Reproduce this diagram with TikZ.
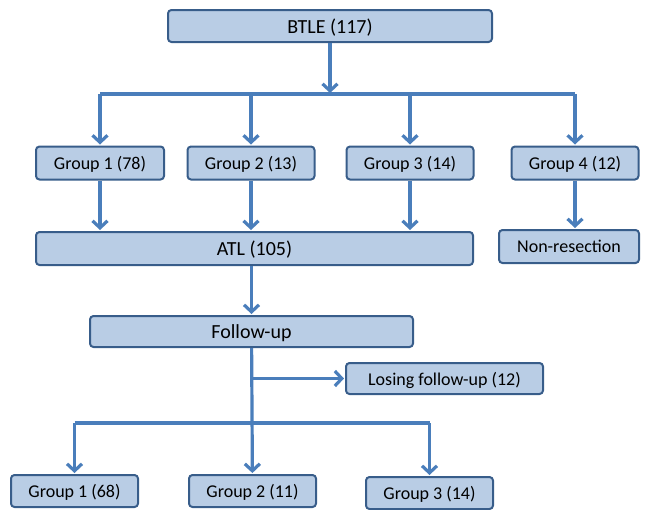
\documentclass[tikz,border=0pt]{standalone}
\usepackage{fontspec}
\setmainfont{Carlito}
\usetikzlibrary{arrows.meta}

\definecolor{boxfill}{RGB}{185,205,229}
\definecolor{boxline}{RGB}{56,93,138}
\definecolor{arrowblue}{RGB}{74,126,187}

\tikzset{
  bigbox/.style={draw=boxline, fill=boxfill, line width=2pt, rounded corners=3.5pt,
    inner sep=0pt, text depth=0pt, font=\fontsize{20}{22}\selectfont},
  smallbox/.style={bigbox, font=\fontsize{18}{20}\selectfont},
  link/.style={draw=arrowblue, line width=3.2pt},
  arrow/.style={link, -{Straight Barb[length=7pt,width=15pt,line width=3.2pt]}, shorten >=1pt},
}

\begin{document}
\begin{tikzpicture}[x=1pt, y=-1pt]
\useasboundingbox (0,0) rectangle (645,509);
%% --- boxes ---
\node[bigbox, minimum width=324pt, minimum height=32pt] (btle) at (330,26) {BTLE (117)};
\node[smallbox, minimum width=128pt, minimum height=33pt] (g1) at (100,163) {Group 1 (78)};
\node[smallbox, minimum width=127pt, minimum height=33pt] (g2) at (251,163) {Group 2 (13)};
\node[smallbox, minimum width=127pt, minimum height=33pt] (g3) at (410,163) {Group 3 (14)};
\node[smallbox, minimum width=127pt, minimum height=33pt] (g4) at (575,163) {Group 4 (12)};
\node[bigbox, minimum width=437pt, minimum height=33pt] (atl) at (254.5,248.5) {ATL (105)};
\node[smallbox, minimum width=140pt, minimum height=33pt] (nonres) at (569,246.5) {Non-resection};
\node[bigbox, minimum width=323pt, minimum height=31pt] (follow) at (251.5,331.5) {Follow-up};
\node[smallbox, minimum width=197pt, minimum height=31pt] (lose) at (444.5,378.5) {Losing follow-up (12)};
\node[smallbox, minimum width=127pt, minimum height=32pt] (b1) at (74.5,491) {Group 1 (68)};
\node[smallbox, minimum width=127pt, minimum height=32pt] (b2) at (252.5,491) {Group 2 (11)};
\node[smallbox, minimum width=127pt, minimum height=32pt] (b3) at (429.5,493) {Group 3 (14)};
%% --- top split ---
\coordinate (split) at (330,94);
\draw[arrow] (btle) -- (split);
\draw[link] (g1.north |- split) -- (g4.north |- split);
\foreach \g in {g1,g2,g3,g4}
  \draw[arrow] (\g.north |- split) -- (\g.north);
%% --- into ATL ---
\foreach \g in {g1,g2,g3}
  \draw[arrow] (\g) -- (\g.south |- atl.north);
\draw[arrow] (g4) -- (g4.south |- nonres.north);
\draw[arrow] (atl.south -| follow) -- (follow);
%% --- follow-up split ---
\coordinate (loss) at (follow.south |- lose.west);
\coordinate (split2) at (follow.south |- 0,423);
\draw[arrow] (follow) -- (b2);
\draw[arrow] (loss) -- (lose);
\draw[link] (b1.north |- split2) -- (b3.north |- split2);
\draw[arrow] (b1.north |- split2) -- (b1);
\draw[arrow] (b3.north |- split2) -- (b3);
\end{tikzpicture}
\end{document}
